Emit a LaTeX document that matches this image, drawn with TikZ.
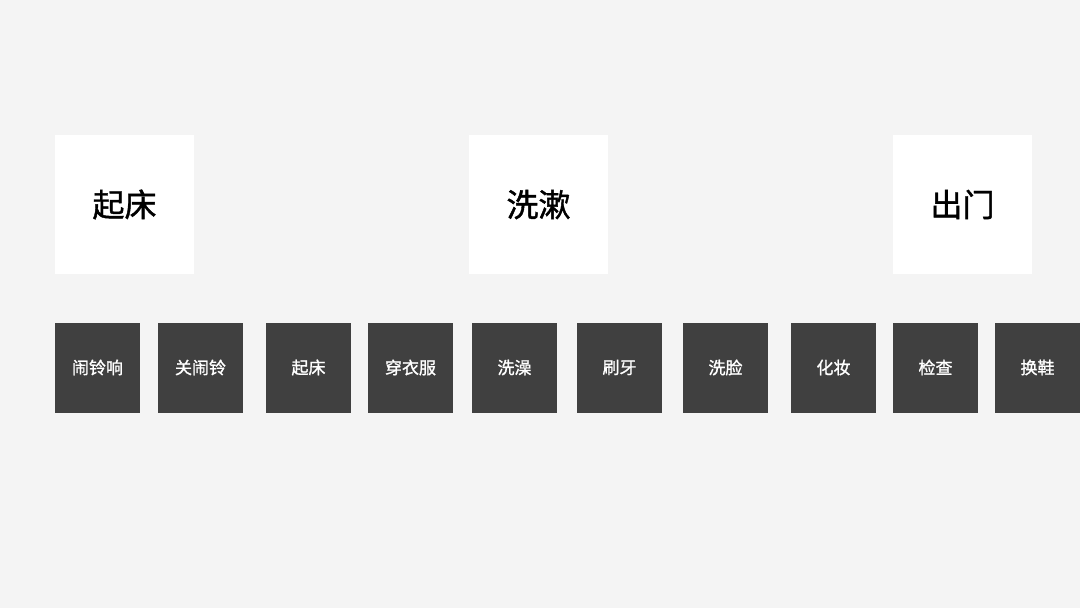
\documentclass[tikz,border=0pt]{standalone}
\usepackage{fontspec}
\newfontfamily\cjk[FakeBold=1.3]{Noto Sans CJK SC}
\definecolor{bggray}{HTML}{F4F4F4}
\definecolor{boxgray}{HTML}{404040}
\begin{document}
\begin{tikzpicture}[x=1pt, y=-1pt]
  \tikzstyle{stage}=[fill=white, minimum width=139pt, minimum height=139pt, inner sep=0pt, font=\cjk\fontsize{32}{36}\selectfont]
  \tikzstyle{task}=[fill=boxgray, text=white, minimum width=85pt, minimum height=90pt, inner sep=0pt, font=\cjk\fontsize{17}{20}\selectfont]

  \fill[bggray] (0, 0) rectangle (1080, 608);
  \useasboundingbox (0, 0) rectangle (1080, 608);

  \node[stage] (wake) at (124.5, 204.5) {起床};
  \node[stage] (wash) at (538.5, 204.5) {洗漱};
  \node[stage] (out) at (962.5, 204.5) {出门};

  \foreach \x/\t [count=\i] in {97.5/闹铃响, 200.5/关闹铃, 308.5/起床, 410.5/穿衣服, 514.5/洗澡,
                               619.5/刷牙, 725.5/洗脸, 833.5/化妆, 935.5/检查, 1037.5/换鞋} {
    \node[task] (s\i) at (\x, 367.5) {\t};
  }
\end{tikzpicture}
\end{document}
